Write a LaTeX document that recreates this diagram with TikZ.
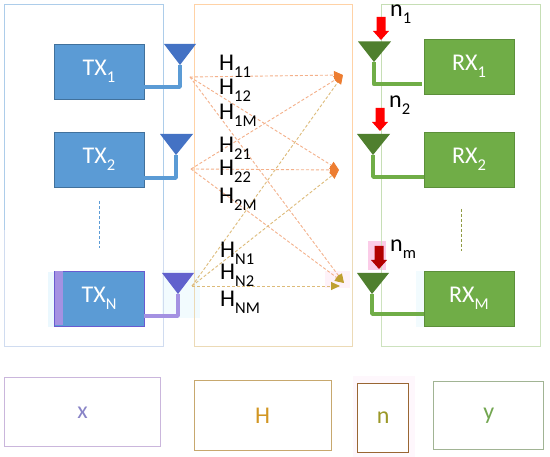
\documentclass[tikz,border=0pt]{standalone}
\usepackage{fontspec}
\setmainfont{Carlito}
\usetikzlibrary{arrows.meta}
\definecolor{txfill}{HTML}{5B9BD5}\definecolor{txedge}{HTML}{41719C}
\definecolor{rxfill}{HTML}{70AD47}\definecolor{rxedge}{HTML}{5C8F3A}
\definecolor{txant}{HTML}{4472C4}\definecolor{rxant}{HTML}{4F7F2E}
\definecolor{linkA}{HTML}{F4B08A}\definecolor{linkB}{HTML}{DDBB7A}
\definecolor{headA}{HTML}{ED7D31}\definecolor{headB}{HTML}{BFA030}
\newcommand{\lowsub}[1]{\raisebox{-.28em}{\fontsize{16.5}{16.5}\selectfont #1}}
\tikzset{
  txbox/.style={draw=txedge,fill=txfill,line width=.7pt,minimum width=90pt,minimum height=55pt,inner sep=0pt,text=white,font=\fontsize{24}{24}\selectfont},
  rxbox/.style={draw=rxedge,fill=rxfill,line width=.7pt,minimum width=90pt,minimum height=55pt,inner sep=0pt,text=white,font=\fontsize{24}{24}\selectfont},
  txstem/.style={draw=txfill,line width=3.4pt},
  rxstem/.style={draw=rxfill,line width=3.4pt},
  link/.style={draw=linkA,line width=.9pt,dash pattern=on 3pt off 2pt,-{Triangle[length=9pt,width=8pt,color=#1,fill=#1]}},
  hlabel/.style={anchor=base west,inner sep=0pt,font=\fontsize{24}{24}\selectfont,text=black},
  legend/.style={draw,line width=1pt,inner sep=0pt,fill=white,font=\fontsize{24}{24}\selectfont}
}
\newcommand{\twoframe}[6]{%
  \draw[#5,line width=1pt] (#1,230) |- (#3,#2) -- (#3,230);
  \draw[#6,line width=1pt] (#1,230) |- (#3,#4) -- (#3,230);
}
\newcommand{\noisearrow}[4]{% x, ytop, ybot, colour
  \fill[#4] (#1-4.5,#2) -- (#1+4.5,#2) -- (#1+4.5,#3-9) -- (#1+8,#3-9) -- (#1,#3) -- (#1-8,#3-9) -- (#1-4.5,#3-9) -- cycle;
}
\begin{document}
\begin{tikzpicture}[x=1pt,y=-1pt]
\useasboundingbox (0,0) rectangle (550,457);
\fill[white] (0,0) rectangle (550,457);
% faint halos
\fill[cyan!8] (48,272) rectangle (54,327);
\fill[cyan!5] (162,270) rectangle (200,318);
\fill[cyan!5] (416,271) rectangle (424,327);
\fill[magenta!20] (368,241) rectangle (386,270);
\fill[magenta!3] (353,376) rectangle (415,457);
\fill[magenta!5] (325,271) rectangle (350,288);
% frames
\twoframe{4.5}{5}{163}{347}{txfill!50}{txant!25}
\twoframe{194}{5}{352.5}{347}{orange!35}{linkB!55}
\twoframe{381.7}{5}{540.7}{347}{rxfill!40}{rxfill!35}
% named points
\coordinate (s1) at (190,77);
\coordinate (s2) at (191,169);
\coordinate (sn) at (192,286);
\coordinate (t1) at (343,75);
\coordinate (t2) at (339,170);
\coordinate (tn) at (344,283);
\coordinate (tm) at (340,286);
% links
\draw[link=headA] (s1) -- (t1);
\draw[link=headA] (s1) -- (t2);
\draw[link=headB] (s1) -- (tn);
\draw[link=headA] (s2) -- (t1);
\draw[link=headA] (s2) -- (t2);
\draw[link=headB] (s2) -- (tn);
\draw[link=headA,draw=linkB] (sn) -- (t1);
\draw[link=headA,draw=linkB] (sn) -- (t2);
\draw[link=headB,draw=linkB] (sn) -- (tm);
% TX boxes
\node[txbox] (tx1) at (99,71.5) {TX\lowsub{1}};
\node[txbox] (tx2) at (99,159.5) {TX\lowsub{2}};
\node[txbox,draw=txant!80!magenta] (txn) at (99,298.5) {};
\fill[txant!75!magenta!65] (54.5,271.5) rectangle (63,325.5);
\node[text=white,font=\fontsize{24}{24}\selectfont] (txnlabel) at (txn.center) {TX\lowsub{N}};
% RX boxes
\node[rxbox] (rx1) at (469,66.5) {RX\lowsub{1}};
\node[rxbox] (rx2) at (469,159.5) {RX\lowsub{2}};
\node[rxbox] (rxm) at (469,298.5) {RX\lowsub{M}};
% antenna tips and corners
\coordinate (a1) at (180,65); \coordinate (a2) at (176,155); \coordinate (an) at (178,294);
\coordinate (r1) at (374,62); \coordinate (r2) at (373,155); \coordinate (rm) at (372,294);
\coordinate (c1) at (180,87); \coordinate (c2) at (176,178); \coordinate (cn) at (178,316);
\coordinate (d1) at (374,84); \coordinate (d2) at (373,177); \coordinate (dm) at (372,314);
% stems
\draw[txstem,line join=round] (a1) -- (c1) -- (tx1.east |- c1);
\draw[txstem,line join=round] (a2) -- (c2) -- (tx2.east |- c2);
\draw[txstem,draw=txant!75!magenta!65,line join=round] (an) -- (cn) -- (txn.east |- cn);
\draw[rxstem,line join=round,line width=4.5pt] (r1) -- (d1) -- ([xshift=-2pt]rx1.west |- d1);
\draw[rxstem,line join=round] (r2) -- (d2) -- (rx2.west |- d2);
\draw[rxstem,line join=round] (rm) -- (dm) -- (rxm.west |- dm);
% antennas
\fill[txant] (164,44) -- (196,44) -- (a1) -- cycle;
\fill[txant] (160,134) -- (193,134) -- (a2) -- cycle;
\fill[txant!85!magenta] (162,273) -- (194,273) -- (an) -- cycle;
\fill[rxant] (358,41.5) -- (391,41.5) -- (r1) -- cycle;
\fill[rxant] (357,134) -- (390,134) -- (r2) -- cycle;
\fill[rxant] (357,273) -- (389,273) -- (rm) -- cycle;
% dashed continuation
\draw[txfill,line width=1pt,dash pattern=on 3pt off 2pt] (99,201) -- (99,248);
\draw[rxfill!60!brown,line width=1pt,dash pattern=on 3pt off 2pt] (461,209) -- (461,251);
% noise arrows
\noisearrow{381}{17}{40}{red}
\noisearrow{380}{108}{131}{red}
\noisearrow{379}{246}{269}{red!70!black}
% channel labels
\node[hlabel] (h11) at (219,71) {H\lowsub{11}};
\node[hlabel] (h12) at (219,95) {H\lowsub{12}};
\node[hlabel] (h1m) at (219,120) {H\lowsub{1M}};
\node[hlabel] (h21) at (219,153) {H\lowsub{21}};
\node[hlabel] (h22) at (219,176) {H\lowsub{22}};
\node[hlabel] (h2m) at (219,204) {H\lowsub{2M}};
\node[hlabel] (hn1) at (220,258) {H\lowsub{N1}};
\node[hlabel] (hn2) at (220,280) {H\lowsub{N2}};
\node[hlabel] (hnm) at (220,307) {H\lowsub{NM}};
\node[hlabel] (n1) at (390,17) {n\lowsub{1}};
\node[hlabel] (n2) at (389,108) {n\lowsub{2}};
\node[hlabel] (nm) at (390,252) {n\lowsub{m}};
% legend boxes
\node[legend,draw=txant!40!violet!35,text=txant!70!violet!70,minimum width=156pt,minimum height=69pt] (lx) at (82.5,412.5) {x};
\node[legend,draw=linkB!90!black,text=headB!70!orange,minimum width=137pt,minimum height=69.5pt] (lh) at (262.5,415.5) {H};
\node[legend,draw=brown!80!black,text=headB!90!green!90!black,minimum width=50.7pt,minimum height=69.7pt] (ln) at (383.3,418) {n};
\node[legend,draw=rxfill!45!gray!70,text=rxfill!85!gray,minimum width=110.3pt,minimum height=68.5pt] (ly) at (488.8,415.3) {y};
\end{tikzpicture}
\end{document}
